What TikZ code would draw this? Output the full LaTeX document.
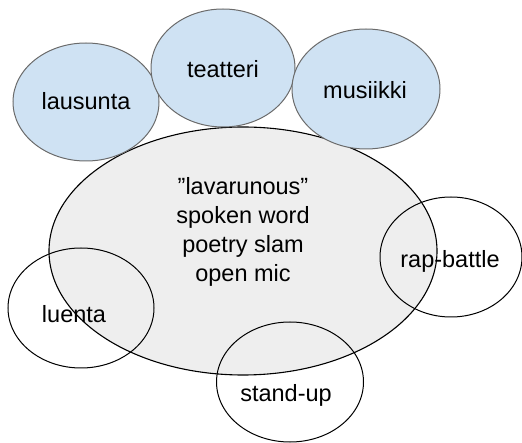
\documentclass[tikz,border=0pt]{standalone}
\usepackage{fontspec}
\setmainfont{Liberation Sans}
\usetikzlibrary{shapes.geometric}
\definecolor{bluefill}{HTML}{CFE2F3}
\definecolor{bluedraw}{HTML}{6B6B6B}
\definecolor{grayfill}{HTML}{EEEEEE}
\tikzset{
  shp/.style={ellipse, inner sep=0pt, line width=1pt},
  bluebox/.style={shp, draw=bluedraw, fill=bluefill},
  bigbox/.style={shp, draw=black, fill=grayfill, line width=1.1pt},
  ringbox/.style={shp, draw=black},
  lbl/.style={font=\fontsize{23.5}{29}\selectfont, inner sep=0pt, anchor=base, text=black},
}
\begin{document}
\begin{tikzpicture}[x=1pt,y=-1pt]
\useasboundingbox (0,0) rectangle (522,443);
\node[bigbox, minimum width=388pt, minimum height=248pt] (big) at (243,251) {};
\node[bluebox, minimum width=146pt, minimum height=118pt] (lau) at (86,102) {};
\node[bluebox, minimum width=144pt, minimum height=118pt] (tea) at (223,68) {};
\node[bluebox, minimum width=148pt, minimum height=120pt] (mus) at (366,89) {};
\node[ringbox, minimum width=142pt, minimum height=120pt] (rap) at (451,257) {};
\node[ringbox, minimum width=146pt, minimum height=120pt] (lue) at (81,308) {};
\node[ringbox, minimum width=147pt, minimum height=120pt] (sta) at (290,382) {};
\node[lbl] (tlau) at (86,110) {lausunta};
\node[lbl] (ttea) at (223,78) {teatteri};
\node[lbl] (tmus) at (365,99) {musiikki};
\node[lbl, align=center] (tbig) at (243,282) {"lavarunous"\\spoken word\\poetry slam\\open mic};
\node[lbl] (trap) at (450,268) {rap-battle};
\node[lbl] (tlue) at (74,323) {luenta};
\node[lbl] (tsta) at (286,402) {stand-up};
\end{tikzpicture}
\end{document}
